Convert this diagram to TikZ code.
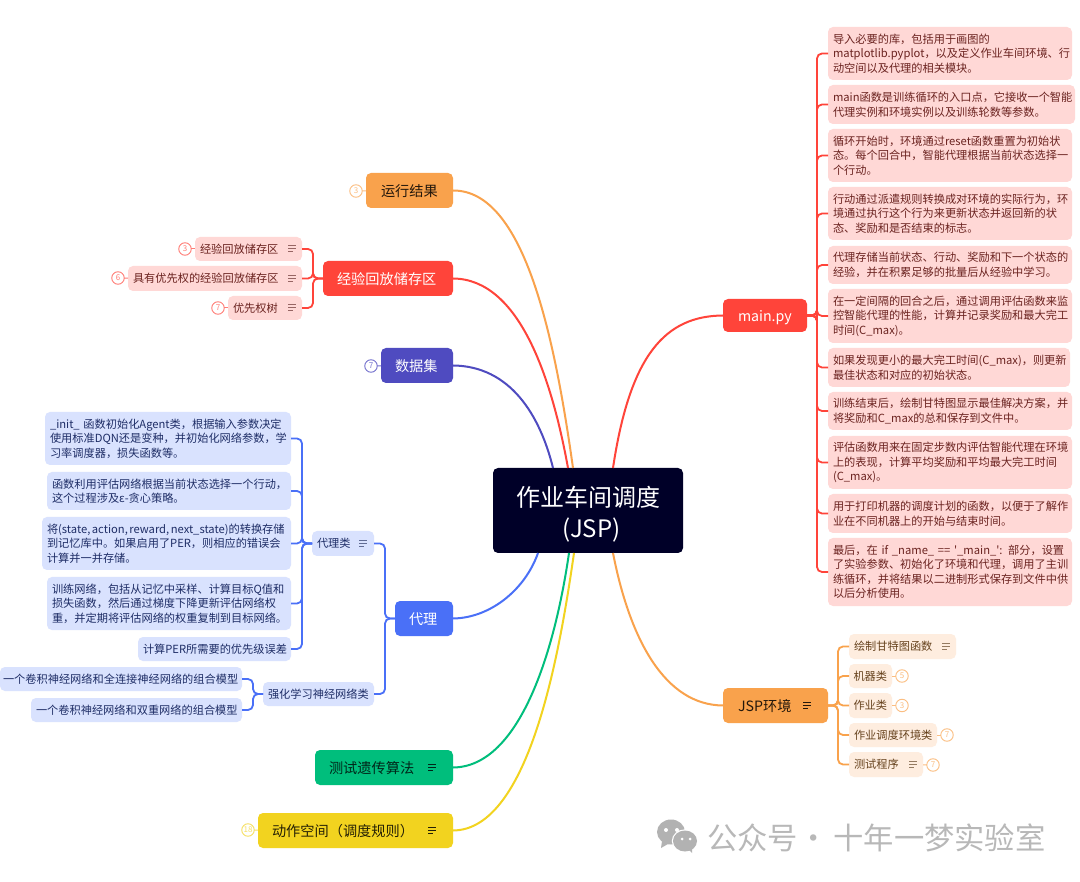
\documentclass[tikz,border=0pt]{standalone}
\usepackage{fontspec}
\setmainfont{Noto Sans CJK SC}
\newfontfamily\plainf{Noto Sans CJK SC}
\definecolor{cRed}{HTML}{FF443A}
\definecolor{cOrange}{HTML}{F9A24C}
\definecolor{cIndigo}{HTML}{4F4BC0}
\definecolor{cBlue}{HTML}{4A70F7}
\definecolor{cGreen}{HTML}{00BE7C}
\definecolor{cYellow}{HTML}{F2D31F}
\definecolor{cRoot}{HTML}{000028}
\definecolor{lRed}{HTML}{FFD8D6}
\definecolor{lBlue}{HTML}{D9E2FE}
\definecolor{lOrange}{HTML}{FEEDDF}
\definecolor{tRed}{HTML}{6B2320}
\definecolor{tBlue}{HTML}{1E2D66}
\definecolor{tOrange}{HTML}{66421D}
\tikzset{
  x=1pt,y=-1pt,
  basebox/.style={rounded corners=5pt,inner ysep=0pt,outer sep=0pt,align=left,anchor=center,font=\plainf\fontsize{11.2}{14.5}\selectfont},
  subred/.style={basebox,fill=lRed,text=tRed},
  subblue/.style={basebox,fill=lBlue,text=tBlue},
  suborange/.style={basebox,fill=lOrange,text=tOrange},
  topic/.style={basebox,font=\plainf\fontsize{14.2}{17}\selectfont,text height=14.5pt,text depth=2.5pt},
  topicred/.style={topic,fill=cRed,text=white},
  topicorange/.style={topic,fill=cOrange,text=black!85!cOrange},
  topicindigo/.style={topic,fill=cIndigo,text=white},
  topicblue/.style={topic,fill=cBlue,text=white},
  topicgreen/.style={topic,fill=cGreen,text=black!80!cGreen},
  topicyellow/.style={topic,fill=cYellow,text=black!85!cYellow},
  rootbox/.style={rounded corners=5pt,fill=cRoot,text=white,align=center,outer sep=0pt,inner sep=0pt,minimum width=190pt,minimum height=85pt,font=\plainf\fontsize{24}{31}\selectfont},
  badge/.style={circle,draw=#1,fill=white,text=#1,line width=0.9pt,minimum size=12.5pt,inner sep=0pt,outer sep=0pt,font=\plainf\fontsize{8}{8}\selectfont},
  link/.style={line width=1.8pt,draw=#1,rounded corners=5pt},
  blink/.style={line width=1pt,draw=#1},
  branch/.style={line width=2pt,draw=#1},
  wm/.style={text=black!28,font=\plainf\fontsize{30.3}{32}\selectfont,inner sep=0pt,anchor=west},
}
\newcommand\noteicon[3]{%
  \draw[line width=0.9pt,draw=#3] (#1-4,#2-3) -- ++(8,0);
  \draw[line width=0.9pt,draw=#3] (#1-4,#2) -- ++(8,0);
  \draw[line width=0.9pt,draw=#3] (#1-4,#2+3) -- ++(5,0);
}
\begin{document}
\begin{tikzpicture}
\useasboundingbox (0,0) rectangle (1080,882);
\fill[white] (0,0) rectangle (1080,882);

% root
\node[rootbox] (root) at (588,510.5) {\rule{0pt}{27pt}作业车间调度\\\hspace*{7pt}(JSP)};

% first level
\node[topicorange,minimum width=87pt,minimum height=35pt,text width=57pt,inner xsep=15pt] (run) at (409.5,190.5) {运行结果};
\node[topicred,minimum width=130pt,minimum height=35pt,text width=102pt,inner xsep=14pt] (buffer) at (388,278.5) {经验回放储存区};
\node[topicindigo,minimum width=72pt,minimum height=35pt,text width=44pt,inner xsep=14pt] (data) at (417,365.5) {数据集};
\node[topicblue,minimum width=58pt,minimum height=35pt,text width=30pt,inner xsep=14pt] (agent) at (424,618.5) {代理};
\node[topicgreen,minimum width=138pt,minimum height=35pt,text width=110pt,inner xsep=14pt] (ga) at (384,767.5) {测试遗传算法};
\node[topicyellow,minimum width=195pt,minimum height=35pt,text width=167pt,inner xsep=14pt] (action) at (355.5,830.5) {动作空间（调度规则）};
\node[topicred,minimum width=84pt,minimum height=33pt,text width=54pt,inner xsep=15pt] (main) at (765,315.5) {main.py};
\node[topicorange,minimum width=105pt,minimum height=35pt,text width=75pt,inner xsep=15pt] (env) at (775.5,705.5) {JSP环境};

% root branches
\draw[branch=cOrange] (run.east) .. controls (525,190) and (555,340) .. ([xshift=-15pt]root.north);
\draw[branch=cRed] (buffer.east) .. controls (520,279) and (552,380) .. ([xshift=-20pt]root.north);
\draw[branch=cIndigo] (data.east) .. controls (510,366) and (540,415) .. ([xshift=-35pt]root.north);
\draw[branch=cBlue] (agent.east) .. controls (490,618) and (525,590) .. ([xshift=-50pt]root.south);
\draw[branch=cGreen] (ga.east) .. controls (520,767) and (555,650) .. ([xshift=-19pt]root.south);
\draw[branch=cYellow] (action.east) .. controls (530,830) and (560,650) .. ([xshift=-14pt]root.south);
\draw[branch=cRed] (main.west) .. controls (665,316) and (630,355) .. ([xshift=25pt]root.north);
\draw[branch=cOrange] (env.west) .. controls (665,705) and (630,640) .. ([xshift=25pt]root.south);

% buffer children
\node[subred,minimum width=107pt,minimum height=24pt,text width=97pt,inner xsep=5pt] (b1) at (248.5,249) {经验回放储存区};
\node[subred,minimum width=174pt,minimum height=25pt,text width=164pt,inner xsep=5pt] (b2) at (215,278.5) {具有优先权的经验回放储存区};
\node[subred,minimum width=74pt,minimum height=24pt,text width=64pt,inner xsep=5pt] (b3) at (265,308) {优先权树};
\foreach \c in {b1,b2,b3} \draw[link=cRed] (buffer.west) -- ++(-10,0) |- (\c.east);
\node[badge=cRed!70] (bb1) at (185,249) {3};
\node[badge=cRed!70] (bb2) at (118,278) {6};
\node[badge=cRed!70] (bb3) at (218,308) {7};
\draw[blink=cRed!70] (bb1) -- (b1);
\draw[blink=cRed!70] (bb2) -- (b2);
\draw[blink=cRed!70] (bb3) -- (b3);
\noteicon{292}{248.5}{tRed!70}
\noteicon{292}{278}{tRed!70}
\noteicon{292}{307.5}{tRed!70}

% badges on topics
\node[badge=cOrange!70] (brun) at (356,191) {3};
\draw[blink=cOrange!70] (brun) -- (run);
\node[badge=cIndigo!80] (bdata) at (371,366) {7};
\draw[blink=cIndigo!80] (bdata) -- (data);
\node[badge=cYellow!70] (bact) at (248,830) {18};
\draw[blink=cYellow!70] (bact) -- (action);
\noteicon{432}{767}{black!80!cGreen}
\noteicon{432}{830}{black!85!cYellow}
\noteicon{807}{705}{black!85!cOrange}

% agent branch
\node[subblue,minimum width=62pt,minimum height=25pt,text width=52pt,inner xsep=5pt] (ag1) at (343,543.5) {代理类};
\node[subblue,minimum width=111pt,minimum height=24pt,text width=101pt,inner xsep=5pt] (ag2) at (318.5,694) {强化学习神经网络类};
\draw[link=cBlue] (agent.west) -- ++(-10,0) |- (ag1.east);
\draw[link=cBlue] (agent.west) -- ++(-10,0) |- (ag2.east);
\noteicon{363}{543}{tBlue!70}

\node[subblue,minimum width=246pt,minimum height=53pt,text width=236pt,inner xsep=5pt] (a1) at (168,438.5) {\mbox{\_init\_ 函数初始化Agent类，根据输入参数决定}\\使用标准DQN还是变种，并初始化网络参数，学\\习率调度器，损失函数等。};
\node[subblue,minimum width=244pt,minimum height=38pt,text width=234pt,inner xsep=5pt] (a2) at (169,491) {函数利用评估网络根据当前状态选择一个行动，\\这个过程涉及ε-贪心策略。};
\node[subblue,minimum width=249pt,minimum height=53pt,text width=239pt,inner xsep=5pt] (a3) at (166.5,543.5) {\mbox{将(state,\kern1.5pt action,\kern1.5pt reward,\kern1.5pt next\_state)的转换存储}\\到记忆库中。如果启用了PER，则相应的错误会\\计算并一并存储。};
\node[subblue,minimum width=244pt,minimum height=53pt,text width=234pt,inner xsep=5pt] (a4) at (169,603.5) {训练网络，包括从记忆中采样、计算目标Q值和\\损失函数，然后通过梯度下降更新评估网络权\\重，并定期将评估网络的权重复制到目标网络。};
\node[subblue,minimum width=153pt,minimum height=24pt,text width=143pt,inner xsep=5pt] (a5) at (214.5,649) {计算PER所需要的优先级误差};
\foreach \c in {a1,a2,a3,a4,a5} \draw[link=cBlue] (ag1.west) -- ++(-10,0) |- (\c.east);

\node[subblue,minimum width=242pt,minimum height=24pt,text width=236pt,inner xsep=3pt] (c1) at (121,679) {一个卷积神经网络和全连接神经网络的组合模型};
\node[subblue,minimum width=211pt,minimum height=24pt,text width=201pt,inner xsep=5pt] (c2) at (136.5,710) {一个卷积神经网络和双重网络的组合模型};
\foreach \c in {c1,c2} \draw[link=cBlue] (ag2.west) -- ++(-10,0) |- (\c.east);

% main.py children
\node[subred,minimum width=244pt,minimum height=53pt,text width=234pt,inner xsep=5pt] (m1) at (950,53.5) {导入必要的库，包括用于画图的\\matplotlib.pyplot，以及定义作业车间环境、行\\动空间以及代理的相关模块。};
\node[subred,minimum width=247pt,minimum height=39pt,text width=237pt,inner xsep=5pt] (m2) at (951.5,104.5) {main函数是训练循环的入口点，它接收一个智能\\代理实例和环境实例以及训练轮数等参数。};
\node[subred,minimum width=244pt,minimum height=53pt,text width=234pt,inner xsep=5pt] (m3) at (950,155.5) {循环开始时，环境通过reset函数重置为初始状\\态。每个回合中，智能代理根据当前状态选择一\\个行动。};
\node[subred,minimum width=244pt,minimum height=53pt,text width=234pt,inner xsep=5pt] (m4) at (950,213.5) {行动通过派遣规则转换成对环境的实际行为，环\\境通过执行这个行为来更新状态并返回新的状\\态、奖励和是否结束的标志。};
\node[subred,minimum width=244pt,minimum height=38pt,text width=234pt,inner xsep=5pt] (m5) at (950,265) {代理存储当前状态、行动、奖励和下一个状态的\\经验，并在积累足够的批量后从经验中学习。};
\node[subred,minimum width=244pt,minimum height=54pt,text width=234pt,inner xsep=5pt] (m6) at (950,316) {在一定间隔的回合之后，通过调用评估函数来监\\控智能代理的性能，计算并记录奖励和最大完工\\时间(C\_max)。};
\node[subred,minimum width=242pt,minimum height=39pt,text width=232pt,inner xsep=5pt] (m7) at (949,367.5) {如果发现更小的最大完工时间(C\_max)，则更新\\最佳状态和对应的初始状态。};
\node[subred,minimum width=244pt,minimum height=38pt,text width=234pt,inner xsep=5pt] (m8) at (950,411) {训练结束后，绘制甘特图显示最佳解决方案，并\\将奖励和C\_max的总和保存到文件中。};
\node[subred,minimum width=244pt,minimum height=53pt,text width=234pt,inner xsep=5pt] (m9) at (950,462.5) {评估函数用来在固定步数内评估智能代理在环境\\上的表现，计算平均奖励和平均最大完工时间\\(C\_max)。};
\node[subred,minimum width=244pt,minimum height=39pt,text width=234pt,inner xsep=5pt] (m10) at (950,513.5) {用于打印机器的调度计划的函数，以便于了解作\\业在不同机器上的开始与结束时间。};
\node[subred,minimum width=244pt,minimum height=68pt,text width=234pt,inner xsep=5pt] (m11) at (950,572) {\mbox{最后，在 if \_name\_ == '\_main\_': 部分，设置}\\了实验参数、初始化了环境和代理，调用了主训\\练循环，并将结果以二进制形式保存到文件中供\\以后分析使用。};
\foreach \c in {m1,m2,m3,m4,m5,m6,m7,m8,m9,m10,m11} \draw[link=cRed] (main.east) -- ++(10,0) |- (\c.west);

% JSP env children
\node[suborange,minimum width=107pt,minimum height=25pt,text width=97pt,inner xsep=5pt] (e1) at (902.5,646.5) {绘制甘特图函数};
\node[suborange,minimum width=43pt,minimum height=24pt,text width=34pt,inner xsep=4.5pt] (e2) at (870.5,676) {机器类};
\node[suborange,minimum width=43pt,minimum height=25pt,text width=34pt,inner xsep=4.5pt] (e3) at (870.5,705.5) {作业类};
\node[suborange,minimum width=88pt,minimum height=24pt,text width=78pt,inner xsep=5pt] (e4) at (893,735) {作业调度环境类};
\node[suborange,minimum width=74pt,minimum height=25pt,text width=64pt,inner xsep=5pt] (e5) at (886,764.5) {测试程序};
\foreach \c in {e1,e2,e3,e4,e5} \draw[link=cOrange] (env.east) -- ++(10,0) |- (\c.west);
\noteicon{946}{646.5}{tOrange!70}
\noteicon{913}{764}{tOrange!70}
\node[badge=cOrange!70] (be2) at (902,676) {5};
\node[badge=cOrange!70] (be3) at (902,705.5) {3};
\node[badge=cOrange!70] (be4) at (947,735) {7};
\node[badge=cOrange!70] (be5) at (933,765) {7};
\draw[blink=cOrange!70] (be2) -- (e2);
\draw[blink=cOrange!70] (be3) -- (e3);
\draw[blink=cOrange!70] (be4) -- (e4);
\draw[blink=cOrange!70] (be5) -- (e5);

% watermark
\node[wm] (wmark) at (707,838) {公众号·\kern5pt 十年一梦实验室};
\fill[black!30] (671,832) ellipse (14 and 12.5);
\fill[black!30] (662,841) -- (661,848) -- (668,844) -- cycle;
\fill[white] (685,841) ellipse (13.2 and 11.7);
\fill[black!30] (685,841) ellipse (12 and 10.5);
\fill[black!30] (688,849) -- (692,853) -- (692,847) -- cycle;
\fill[white] (666,830) circle (2) (677,830) circle (2) (682,839) circle (1.5) (690,839) circle (1.5);
\end{tikzpicture}
\end{document}
